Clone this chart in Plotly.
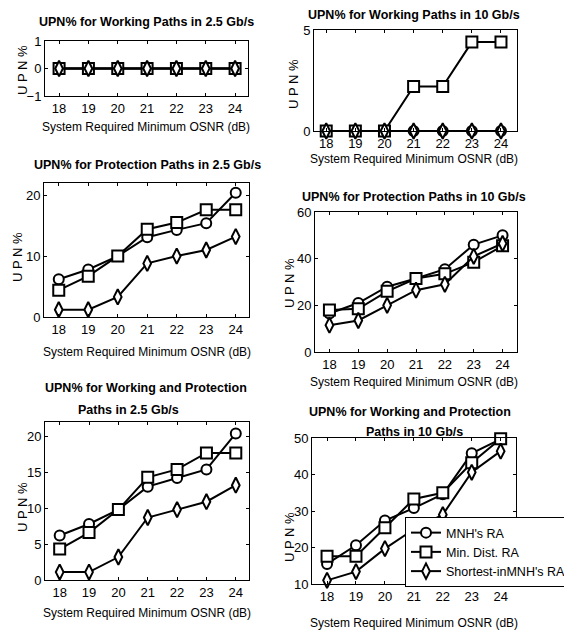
import plotly.graph_objects as go

# Reference canvas size and page offset (browser default body margin)
SW, SH = 572, 635
OFF = 8
W, H = SW - OFF, SH - OFF
FONT = "Liberation Sans, Arial, sans-serif"

osnr = [18, 19, 20, 21, 22, 23, 24]
series_names = ["MNH's RA", "Min. Dist. RA", "Shortest-inMNH's RA"]

# Panel 1: Working paths 2.5 Gb/s
w25_mnh = [0, 0, 0, 0, 0, 0, 0]
w25_min = [0, 0, 0, 0, 0, 0, 0]
w25_sh = [0, 0, 0, 0, 0, 0, 0]
# Panel 2: Working paths 10 Gb/s
w10_mnh = [0, 0, 0, 0, 0, 0, 0]
w10_min = [0, 0, 0, 2.2, 2.2, 4.4, 4.4]
w10_sh = [0, 0, 0, 0, 0, 0, 0]
# Panel 3: Protection paths 2.5 Gb/s
p25_mnh = [6.2, 7.8, 10.0, 13.1, 14.3, 15.4, 20.4]
p25_min = [4.4, 6.7, 10.0, 14.4, 15.5, 17.6, 17.6]
p25_sh = [1.2, 1.2, 3.3, 8.8, 10.0, 11.0, 13.2]
# Panel 4: Protection paths 10 Gb/s
p10_mnh = [16.5, 21.0, 28.0, 31.5, 35.5, 46.0, 50.0]
p10_min = [18.0, 18.5, 26.0, 31.5, 33.5, 38.5, 45.5]
p10_sh = [11.5, 13.5, 20.0, 26.5, 29.0, 41.0, 46.5]
# Panel 5: Working and protection 2.5 Gb/s
wp25_mnh = [6.2, 7.8, 9.8, 13.0, 14.2, 15.4, 20.4]
wp25_min = [4.3, 6.6, 9.8, 14.3, 15.4, 17.7, 17.7]
wp25_sh = [1.1, 1.1, 3.2, 8.7, 9.8, 10.9, 13.2]
# Panel 6: Working and protection 10 Gb/s
wp10_mnh = [15.5, 20.6, 27.4, 30.8, 34.6, 45.8, 49.7]
wp10_min = [17.6, 17.6, 25.4, 33.3, 35.0, 43.2, 49.8]
wp10_sh = [11.0, 13.4, 19.7, 25.0, 29.0, 40.6, 46.4]

y_ranges = [[-1, 1], [0, 5], [0, 22], [0, 60], [0, 22], [10, 50]]
y_ticks = [[-1, 0, 1], [0, 5], [0, 10, 20], [0, 20, 40, 60], [0, 5, 10, 15, 20], [10, 20, 30, 40, 50]]
x_ranges = [[17.52, 24.44], [17.58, 24.55], [17.5, 24.45], [17.5, 24.5], [17.5, 24.45], [17.48, 24.53]]

panels = [
    (w25_mnh, w25_min, w25_sh),
    (w10_mnh, w10_min, w10_sh),
    (p25_mnh, p25_min, p25_sh),
    (p10_mnh, p10_min, p10_sh),
    (wp25_mnh, wp25_min, wp25_sh),
    (wp10_mnh, wp10_min, wp10_sh),
]

# screen pixel boxes (left, right, top, bottom)
boxes = [
    (45, 248, 41, 96),
    (314, 517, 30, 131),
    (44, 249, 183, 317),
    (315, 517, 212, 352),
    (45, 249, 422, 580),
    (312, 516, 438, 584),
]


def px(x):
    return (x - OFF) / W


def py(y):
    return 1 - (y - OFF) / H


symbols = ["circle", "square", "diamond-tall"]
msizes = [10, 11, 11]

fig = go.Figure()
layout = {}
for i, (vals, box) in enumerate(zip(panels, boxes)):
    n = i + 1
    xa = "x" if n == 1 else f"x{n}"
    ya = "y" if n == 1 else f"y{n}"
    for k in range(3):
        fig.add_trace(go.Scatter(
            x=osnr, y=vals[k], xaxis=xa, yaxis=ya,
            mode="lines+markers", name=series_names[k],
            line=dict(color="black", width=2),
            marker=dict(symbol=symbols[k], size=msizes[k],
                        color="white", line=dict(color="black", width=2)),
            showlegend=(n == 6), cliponaxis=False,
        ))
    l, r, t, b = box
    common = dict(showline=True, linecolor="black", linewidth=1, mirror="ticks",
                  ticks="inside", ticklen=3, tickcolor="black", showgrid=False,
                  zeroline=False, automargin=False,
                  tickfont=dict(family=FONT, size=13, color="black"))
    layout["xaxis" if n == 1 else f"xaxis{n}"] = dict(
        domain=[px(l), px(r)], anchor=ya, range=x_ranges[i], tickvals=osnr, **common)
    layout["yaxis" if n == 1 else f"yaxis{n}"] = dict(
        domain=[py(b), py(t)], anchor=xa, range=y_ranges[i], tickvals=y_ticks[i], **common)

fig.update_layout(**layout)

annots = []


def ann(text, x, y, size=12, bold=False, angle=0, xanchor="center"):
    annots.append(dict(text=f"<b>{text}</b>" if bold else text, x=px(x), y=py(y),
                       xref="paper", yref="paper", showarrow=False, textangle=angle,
                       xanchor=xanchor, yanchor="middle",
                       font=dict(family=FONT, size=size, color="black")))


TS = 12.5
# titles
ann("UPN% for Working Paths in 2.5 Gb/s", 146, 22, TS, True)
ann("UPN% for Working Paths in 10 Gb/s", 414, 15, TS, True)
ann("UPN% for Protection Paths in 2.5 Gb/s", 147, 165, TS, True)
ann("UPN% for Protection Paths in 10 Gb/s", 414, 197, TS, True)
ann("UPN% for Working and Protection", 146, 388, TS, True)
ann("Paths in 2.5 Gb/s", 76, 410, TS, True, xanchor="left")
ann("UPN% for Working and Protection", 410, 412, TS, True)
ann("Paths in 10 Gb/s", 364, 432, TS, True, xanchor="left")

# x axis titles
xl = "System Required Minimum OSNR (dB)"
XS = 12
ann(xl, 146, 127, XS)
ann(xl, 414, 159, XS)
ann(xl, 147, 352, XS)
ann(xl, 414, 382, XS)
ann(xl, 147, 613, XS)
ann(xl, 414, 623, XS)

# y axis titles
yl = "U P N %"
ann(yl, 22, 70, 13, angle=-90)
ann(yl, 293, 84, 13, angle=-90)
ann(yl, 18, 257, 13, angle=-90)
ann(yl, 289, 283, 13, angle=-90)
ann(yl, 22, 507, 13, angle=-90)
ann(yl, 289, 537, 13, angle=-90)

fig.update_layout(
    width=W, height=H, margin=dict(l=0, r=0, t=0, b=0, autoexpand=False),
    paper_bgcolor="white", plot_bgcolor="white",
    annotations=annots,
    legend=dict(x=px(405), y=py(517), xanchor="left", yanchor="top",
                bgcolor="white", bordercolor="black", borderwidth=1,
                font=dict(family=FONT, size=12.5, color="black"),
                itemwidth=30, tracegroupgap=0),
)

fig.write_html("out.html")
